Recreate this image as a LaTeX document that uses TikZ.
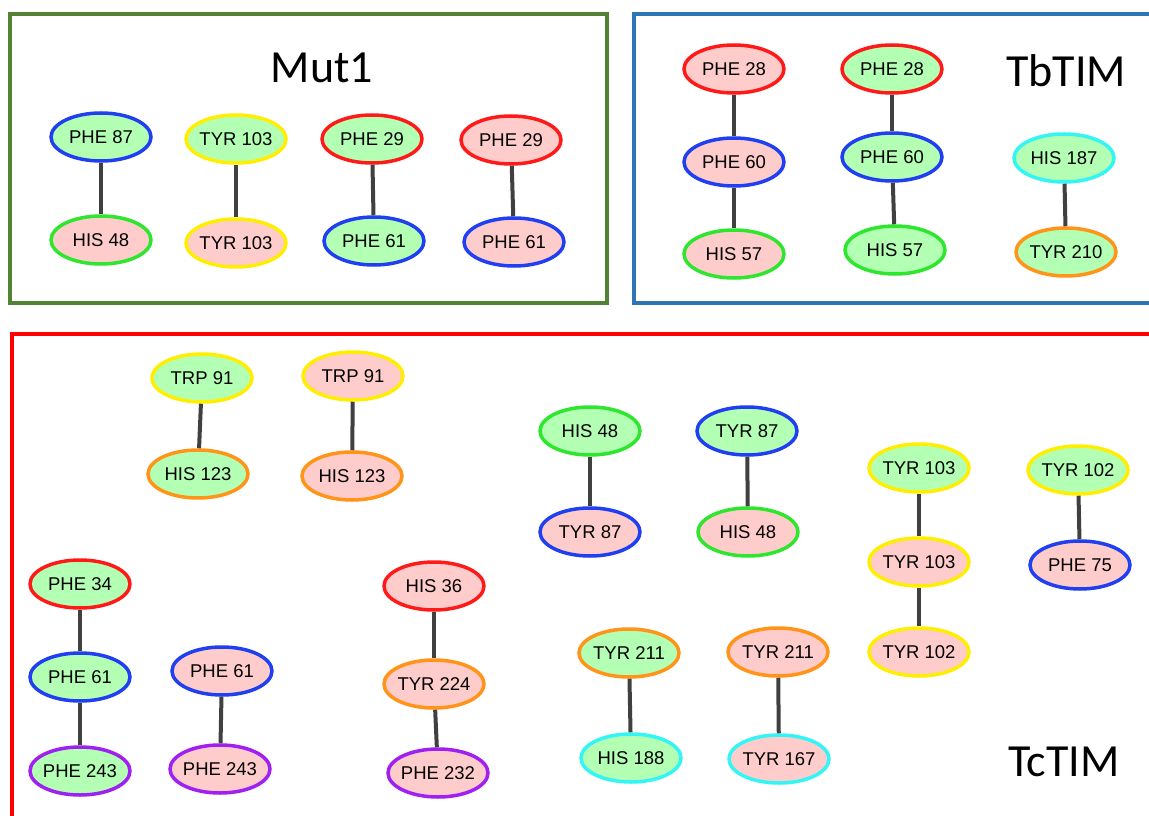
\documentclass[tikz,border=0pt]{standalone}
\usepackage{fontspec}
\setmainfont{Liberation Sans}
\newfontfamily\titlefont{Carlito}
\usepackage{tikz}
\usetikzlibrary{shapes.geometric,positioning}

\definecolor{hitgreen}{HTML}{B3FFB3}
\definecolor{misspink}{HTML}{FFCCCC}
\definecolor{cblue}{HTML}{1F3FF0}
\definecolor{cgreen}{HTML}{2EE62E}
\definecolor{cyellow}{HTML}{FFEE00}
\definecolor{cred}{HTML}{FF1A1A}
\definecolor{corange}{HTML}{FF9419}
\definecolor{ccyan}{HTML}{33F5F5}
\definecolor{cpurple}{HTML}{A020F0}
\definecolor{linkgray}{HTML}{404040}
\definecolor{mutframe}{HTML}{548235}
\definecolor{tbframe}{HTML}{2E75B6}
\definecolor{tcframe}{HTML}{FF0000}

\begin{document}
\begin{tikzpicture}[
    x=1pt, y=-1pt,
    res/.style={ellipse, draw, line width=3.5, inner xsep=-10pt, inner ysep=1pt,
                minimum width=100, minimum height=48,
                font=\fontsize{18.5}{20}\selectfont},
    wide/.style={minimum width=106, minimum height=49},
    hit/.style={res, fill=hitgreen},
    miss/.style={res, fill=misspink},
    link/.style={draw=linkgray, line width=4},
    frame/.style={line width=4.5},
    title/.style={font=\titlefont\fontsize{46}{50}\selectfont}
]
\useasboundingbox (0,0) rectangle (1149,816);
\clip (0,0) rectangle (1149,816);

% Frames
\draw[frame, mutframe] (10,14) rectangle (607,303);
\draw[frame, tbframe] (634,14) rectangle (1170,303);
\draw[frame, tcframe] (12,334) rectangle (1170,840);

\node[title] (mut) at (322,68) {Mut1};
\node[title] (tb) at (1066,71) {TbTIM};
\node[title] (tc) at (1064,762) {TcTIM};

% Mut1
\node[hit, draw=cblue] (mphe87) at (101,137) {PHE 87};
\node[miss, draw=cgreen] (mhis48) at (101,240) {HIS 48};
\node[hit, draw=cyellow] (mtyr103a) at (236,139) {TYR 103};
\node[miss, draw=cyellow] (mtyr103b) at (236,243) {TYR 103};
\node[hit, draw=cred] (mphe29a) at (372,139) {PHE 29};
\node[hit, draw=cblue] (mphe61a) at (374,241) {PHE 61};
\node[miss, draw=cred] (mphe29b) at (511,140) {PHE 29};
\node[miss, draw=cblue] (mphe61b) at (514,242) {PHE 61};

\draw[link] (mphe87) -- (mhis48);
\draw[link] (mtyr103a) -- (mtyr103b);
\draw[link] (mphe29a) -- (mphe61a);
\draw[link] (mphe29b) -- (mphe61b);

% TbTIM
\node[miss, draw=cred] (bphe28a) at (734,69) {PHE 28};
\node[miss, draw=cblue] (bphe60a) at (734,162) {PHE 60};
\node[miss, draw=cgreen] (bhis57a) at (734,254) {HIS 57};
\node[hit, draw=cred] (bphe28b) at (892,69) {PHE 28};
\node[hit, draw=cblue] (bphe60b) at (892,157) {PHE 60};
\node[hit, draw=cgreen] (bhis57b) at (895,250) {HIS 57};
\node[hit, draw=ccyan] (bhis187) at (1064,158) {HIS 187};
\node[hit, draw=corange] (btyr210) at (1066,252) {TYR 210};

\draw[link] (bphe28a) -- (bphe60a);
\draw[link] (bphe60a) -- (bhis57a);
\draw[link] (bphe28b) -- (bphe60b);
\draw[link] (bphe60b) -- (bhis57b);
\draw[link] (bhis187) -- (btyr210);

% TcTIM
\begin{scope}[every node/.append style={wide}]
\node[hit, draw=cyellow] (ctrp91a) at (202,378) {TRP 91};
\node[hit, draw=corange] (chis123a) at (198,474) {HIS 123};
\node[miss, draw=cyellow] (ctrp91b) at (353,376) {TRP 91};
\node[miss, draw=corange] (chis123b) at (352,476) {HIS 123};

\node[hit, draw=cgreen] (chis48a) at (590,431) {HIS 48};
\node[miss, draw=cblue] (ctyr87a) at (590,532) {TYR 87};
\node[hit, draw=cblue] (ctyr87b) at (747,431) {TYR 87};
\node[miss, draw=cgreen] (chis48b) at (748,532) {HIS 48};

\node[hit, draw=cyellow] (ctyr103a) at (919,468) {TYR 103};
\node[miss, draw=cyellow] (ctyr103b) at (919,562) {TYR 103};
\node[miss, draw=cyellow] (ctyr102a) at (919,652) {TYR 102};
\node[hit, draw=cyellow] (ctyr102b) at (1078,470) {TYR 102};
\node[miss, draw=cblue] (cphe75) at (1080,565) {PHE 75};

\node[hit, draw=cred] (cphe34) at (80,584) {PHE 34};
\node[hit, draw=cblue] (cphe61a) at (80,677) {PHE 61};
\node[hit, draw=cpurple] (cphe243a) at (80,771) {PHE 243};
\node[miss, draw=cblue] (cphe61b) at (222,671) {PHE 61};
\node[miss, draw=cpurple] (cphe243b) at (220,769) {PHE 243};

\node[miss, draw=cred] (chis36) at (434,586) {HIS 36};
\node[miss, draw=corange] (ctyr224) at (434,684) {TYR 224};
\node[miss, draw=cpurple] (cphe232) at (438,773) {PHE 232};

\node[hit, draw=corange] (ctyr211a) at (629,653) {TYR 211};
\node[hit, draw=ccyan] (chis188) at (631,758) {HIS 188};
\node[miss, draw=corange] (ctyr211b) at (778,652) {TYR 211};
\node[miss, draw=ccyan] (ctyr167) at (779,759) {TYR 167};
\end{scope}

\draw[link] (ctrp91a) -- (chis123a);
\draw[link] (ctrp91b) -- (chis123b);
\draw[link] (chis48a) -- (ctyr87a);
\draw[link] (ctyr87b) -- (chis48b);
\draw[link] (ctyr103a) -- (ctyr103b);
\draw[link] (ctyr103b) -- (ctyr102a);
\draw[link] (ctyr102b) -- (cphe75);
\draw[link] (cphe34) -- (cphe61a);
\draw[link] (cphe61a) -- (cphe243a);
\draw[link] (cphe61b) -- (cphe243b);
\draw[link] (chis36) -- (ctyr224);
\draw[link] (ctyr224) -- (cphe232);
\draw[link] (ctyr211a) -- (chis188);
\draw[link] (ctyr211b) -- (ctyr167);

\end{tikzpicture}
\end{document}
